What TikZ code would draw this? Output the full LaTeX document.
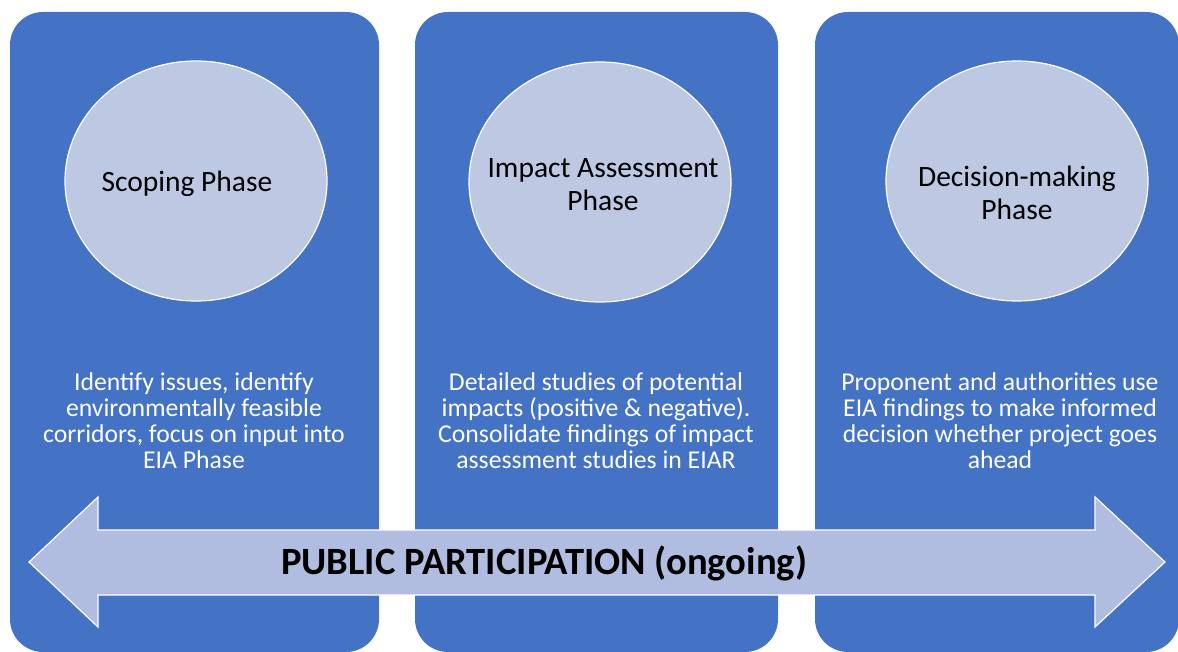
\documentclass[tikz,border=0pt]{standalone}
\usepackage{fontspec}
\setmainfont{Carlito}
\usetikzlibrary{shapes,arrows,positioning}
\definecolor{boxblue}{RGB}{68,114,196}
\definecolor{phaseblue}{RGB}{189,200,227}
\definecolor{arrowblue}{RGB}{176,189,224}

\begin{document}
\begin{tikzpicture}[x=1pt,y=-1pt,every node/.style = {align = center, inner sep = 0pt},phase box/.style = {shape = rectangle, rounded corners = 33pt, fill = boxblue, minimum height = 640pt},phase disc/.style = {shape = ellipse, fill = phaseblue, draw = white, line width = 1.2pt, minimum width = 262pt, minimum height = 240pt},phase name/.style = {font = \fontsize{29.5}{33}\selectfont, text = black},phase text/.style = {font = \fontsize{25.7}{26}\selectfont, text = white}]
\useasboundingbox (0,0) rectangle (1178,652);
\node[phase box, minimum width = 369pt](1;0) at (194.5,332) {};
  \node[phase box, minimum width = 363pt](2;0) at (596.5,332) {};
  \node[phase box, minimum width = 364pt](3;0) at (997,332) {};
% circles with the phase names
\node[phase disc](1;1) at (196,181) {};
  \node[phase disc](2;1) at (600,182) {};
  \node[phase disc](3;1) at (1017,181) {};
\node[phase name](1;2) at (187,184) {Scoping Phase};
  \node[phase name](2;2) at (603,184.5) {Impact Assessment \\ Phase};
  \node[phase name](3;2) at (1017,193) {Decision-making \\ Phase};
% what happens in each phase
\node[phase text](1;3) at (194,421) {Identify issues, identify \\ environmentally feasible \\ corridors, focus on input into \\ EIA Phase};
  \node[phase text](2;3) at (596,421) {Detailed studies of potential \\ impacts (positive \& negative). \\ Consolidate findings of impact \\ assessment studies in EIAR};
  \node[phase text](3;3) at (1000,421) {Proponent and authorities use \\ EIA findings to make informed \\ decision whether project goes \\ ahead};
% double arrow across all phases
\draw[fill = arrowblue, draw = white, line width = 1.2pt, line join = miter] (29,562) -- (98,497) -- (98,530) -- (1095,530) -- (1095,497) -- (1165,562) -- (1095,627) -- (1095,595) -- (98,595) -- (98,627) -- cycle;
\node[font = \fontsize{38.6}{42}\selectfont\bfseries, text = black](4;0) at (544,563) {PUBLIC PARTICIPATION (ongoing)};
\end{tikzpicture}
\end{document}
